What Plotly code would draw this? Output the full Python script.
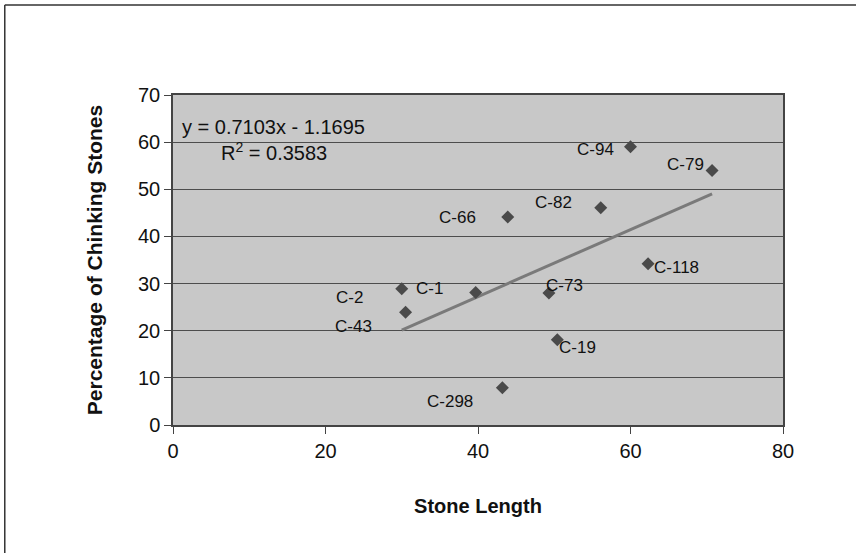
import plotly.graph_objects as go

# Sample measurements
labels = ["C-94", "C-79", "C-82", "C-66", "C-118", "C-73", "C-1", "C-2", "C-43", "C-19", "C-298"]
stone_length = [60.0, 70.7, 56.1, 43.9, 62.3, 49.3, 39.7, 30.0, 30.5, 50.4, 43.2]
pct_chinking = [59.0, 54.0, 46.1, 44.1, 34.2, 28.0, 28.1, 28.9, 23.9, 18.1, 7.9]

# Linear trendline coefficients
slope = 0.7103
intercept = -1.1695
r_squared = 0.3583

# Label offsets in pixels (dx, dy) relative to each point
label_dx = [-35, -27, -47, -50, 28, 16, -46, -52, -52, 20, -52]
label_dy = [-3, 6, 5, 0, -4, 8, 4, -9, -14, -8, -14]

x_tick_vals = [0, 20, 40, 60, 80]
y_tick_vals = [0, 10, 20, 30, 40, 50, 60, 70]

FONT = "Liberation Sans, Arial, sans-serif"

fig = go.Figure()

x_lo, x_hi = min(stone_length), max(stone_length)
fig.add_trace(go.Scatter(
    x=[x_lo, x_hi],
    y=[slope * x_lo + intercept, slope * x_hi + intercept],
    mode="lines",
    line=dict(color="#7a7a7a", width=3),
    hoverinfo="skip",
    showlegend=False,
))

fig.add_trace(go.Scatter(
    x=stone_length,
    y=pct_chinking,
    mode="markers",
    marker=dict(symbol="diamond", size=10, color="#4a4a4a"),
    text=labels,
    showlegend=False,
))

annotations = []
for lab, xv, yv, dx, dy in zip(labels, stone_length, pct_chinking, label_dx, label_dy):
    annotations.append(dict(
        x=xv, y=yv, xref="x", yref="y", text=lab, showarrow=False,
        xshift=dx, yshift=dy, font=dict(family=FONT, size=17, color="#111"),
    ))

sign = "-" if intercept < 0 else "+"
annotations.append(dict(
    x=(180 - 172.5) / 611, y=(425 - 127) / 330, xref="paper", yref="paper",
    xanchor="left", yanchor="middle", showarrow=False,
    text=f"y = {slope:.4f}x {sign} {abs(intercept):.4f}",
    font=dict(family=FONT, size=20, color="#111"),
))
annotations.append(dict(
    x=(219 - 172.5) / 611, y=(425 - 151) / 330, xref="paper", yref="paper",
    xanchor="left", yanchor="middle", showarrow=False,
    text=f"R<sup>2</sup> = {r_squared:.4f}",
    font=dict(family=FONT, size=20, color="#111"),
))

# Outer frame (top and left edges)
px0, pw = 172.5, 611
py0, ph = 425, 330
def xp(px):
    return (px - px0) / pw
def yp(py):
    return (py0 - py) / ph

shapes = [
    dict(type="line", xref="paper", yref="paper", x0=xp(4), y0=yp(5), x1=xp(860), y1=yp(5),
         line=dict(color="#333", width=1.5)),
    dict(type="line", xref="paper", yref="paper", x0=xp(4), y0=yp(5), x1=xp(4), y1=yp(560),
         line=dict(color="#333", width=1.5)),
]

fig.update_layout(
    width=856, height=553,
    margin=dict(l=172.5, r=72.5, t=95, b=128),
    paper_bgcolor="white",
    plot_bgcolor="#c8c8c8",
    font=dict(family=FONT, color="#111"),
    annotations=annotations,
    shapes=shapes,
    xaxis=dict(
        range=[0, 80], tickvals=x_tick_vals, showgrid=False, zeroline=False,
        showline=True, linecolor="#444", linewidth=1.5, mirror=True,
        ticks="outside", ticklen=7, tickcolor="#444",
        tickfont=dict(size=20, family=FONT, color="#111"),
        title=dict(text="<b>Stone Length</b>", font=dict(size=20, family=FONT, color="#111"), standoff=38),
    ),
    yaxis=dict(
        range=[0, 70], tickvals=y_tick_vals, showgrid=True, gridcolor="#4d4d4d", gridwidth=1.2,
        zeroline=False, showline=True, linecolor="#444", linewidth=1.5, mirror=True,
        ticks="outside", ticklen=7, tickcolor="#444",
        tickfont=dict(size=20, family=FONT, color="#111"),
        title=dict(text="<b>Percentage of Chinking Stones</b>", font=dict(size=21, family=FONT, color="#111"), standoff=30),
    ),
)

fig.write_html("out.html")
